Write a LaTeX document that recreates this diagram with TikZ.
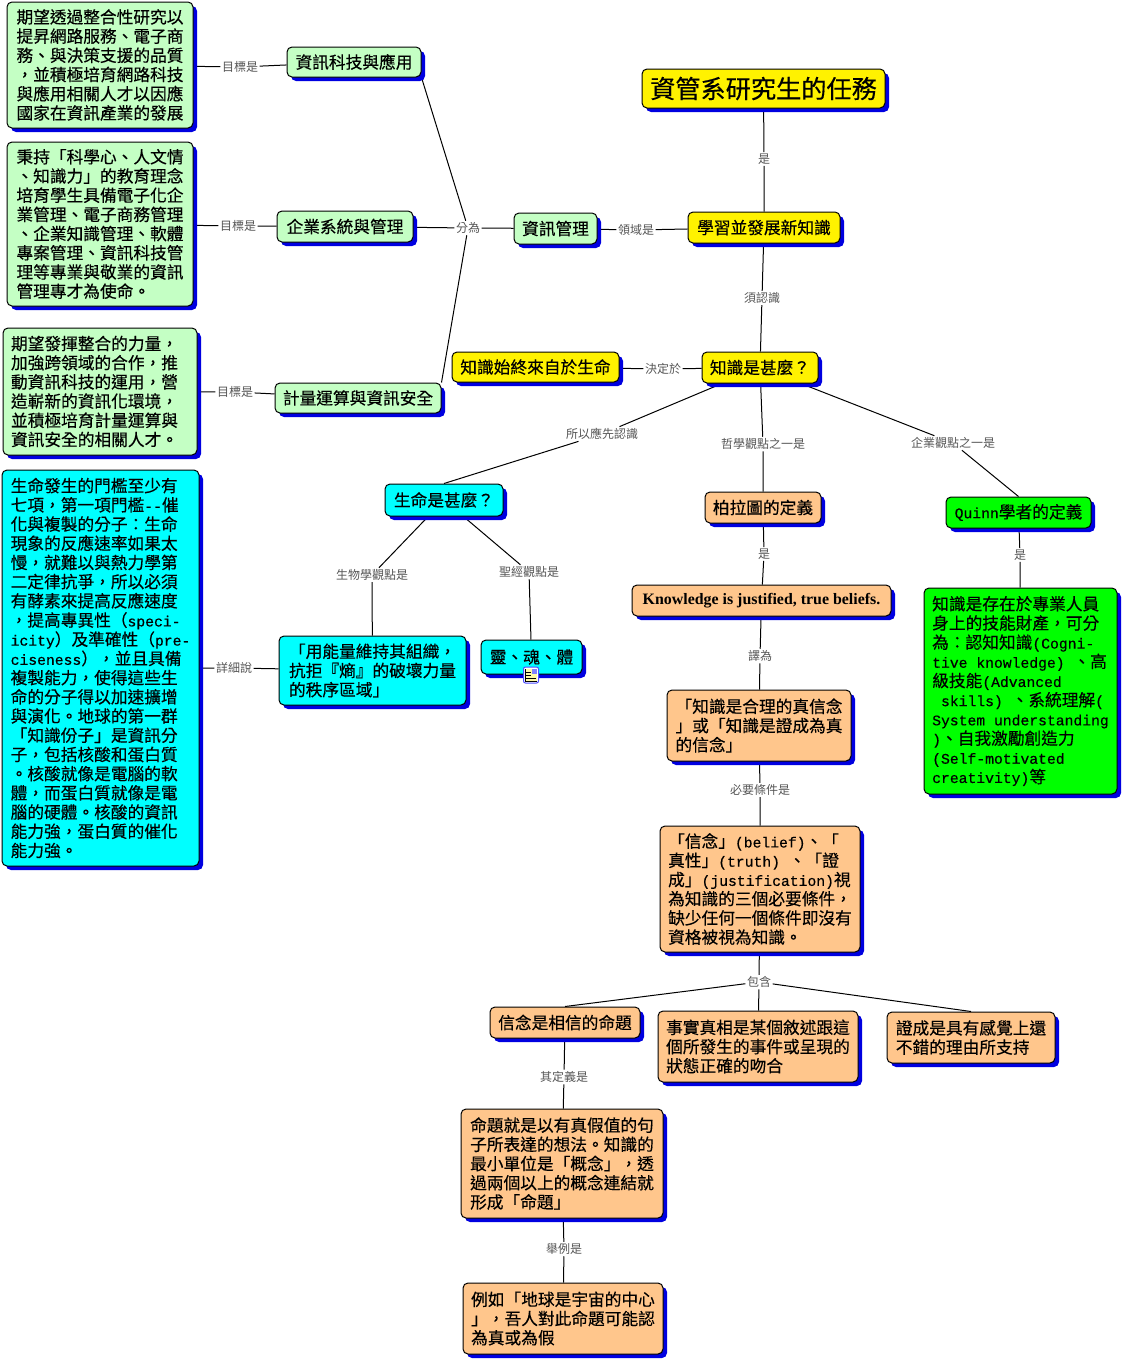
\documentclass[tikz,border=0pt]{standalone}
\usepackage{fontspec}
\setmainfont[FakeBold=0.3]{Noto Sans CJK TC}
\newfontfamily\linkfont{Noto Sans CJK TC}
\newfontfamily\latfont[Scale=0.881,FakeBold=0.4]{Liberation Mono}
\newfontfamily\engfont{Liberation Serif}
\newcommand{\lat}[1]{{\latfont #1}}
\usetikzlibrary{shadows,backgrounds}
\definecolor{palegreen}{HTML}{C4FFC4}
\definecolor{peach}{HTML}{FFC68C}
\definecolor{shadowblue}{HTML}{0000E0}
\definecolor{labelgray}{HTML}{555555}
\definecolor{skyfill}{HTML}{00FFFF}
\definecolor{limefill}{HTML}{00FF00}

\begin{document}
\begin{tikzpicture}[x=1pt, y=-1pt,
	main/.style = {draw, rounded corners=5pt, align=left, inner sep=0pt, line width=1pt,
		font=\fontsize{16.7}{19.2}\selectfont,
		drop shadow={shadow xshift=4pt, shadow yshift=-4pt, fill=shadowblue, opacity=1}},
	link/.style = {inner sep=1.5pt, text=labelgray, font=\linkfont\fontsize{12}{14}\selectfont},
	green/.style = {main, fill=palegreen},
	gold/.style = {main, fill=yellow},
	aqua/.style = {main, fill=skyfill},
	tan/.style = {main, fill=peach},
	lime/.style = {main, fill=limefill}]
	\useasboundingbox (0,0) rectangle (1123,1360);

	\node[gold, minimum width=243pt, minimum height=39pt, font=\fontsize{25.2}{30}\selectfont] (title) at (763.5,88.5) {資管系研究生的任務};
	\node[gold, minimum width=152pt, minimum height=31pt] (learn) at (764,227.5) {學習並發展新知識};
	\node[gold, minimum width=116pt, minimum height=31pt] (know) at (760,367.5) {知識是甚麼？};
	\node[gold, minimum width=167pt, minimum height=30pt] (source) at (535.5,367) {知識始終來自於生命};

	\node[green, minimum width=83pt, minimum height=31pt] (im) at (555.5,228.5) {資訊管理};
	\node[green, minimum width=134pt, minimum height=30pt] (sci) at (354,62) {資訊科技與應用};
	\node[green, minimum width=136pt, minimum height=31pt] (ent) at (345,226.5) {企業系統與管理};
	\node[green, minimum width=166pt, minimum height=30pt] (sec) at (358,398) {計量運算與資訊安全};
	\node[green, minimum width=186pt, minimum height=126pt] (scigoal) at (100,65) {期望透過整合性研究以\\提昇網路服務、電子商\\務、與決策支援的品質\\，並積極培育網路科技\\與應用相關人才以因應\\國家在資訊產業的發展};
	\node[green, minimum width=186pt, minimum height=164pt] (entgoal) at (100,224) {秉持「科學心、人文情\\、知識力」的教育理念\\培育學生具備電子化企\\業管理、電子商務管理\\、企業知識管理、軟體\\專案管理、資訊科技管\\理等專業與敬業的資訊\\管理專才為使命。};
	\node[green, minimum width=194pt, minimum height=127pt, text width=178pt] (secgoal) at (100,391.5) {期望發揮整合的力量，\\加強跨領域的合作，推\\動資訊科技的運用，營\\造嶄新的資訊化環境，\\並積極培育計量運算與\\資訊安全的相關人才。};

	\node[aqua, minimum width=118pt, minimum height=32pt] (life) at (444,500) {生命是甚麼？};
	\node[aqua, minimum width=187pt, minimum height=69pt] (energy) at (372.5,670.5) {「用能量維持其組織，\\抗拒『熵』的破壞力量\\的秩序區域」};
	\node[aqua, minimum width=101pt, minimum height=34pt] (soul) at (531.5,657) {靈、魂、體};
	\node[aqua, minimum width=197pt, minimum height=396pt] (detail) at (100.5,668) {生命發生的門檻至少有\\七項，第一項門檻\lat{--}催\\化與複製的分子：生命\\現象的反應速率如果太\\慢，就難以與熱力學第\\二定律抗爭，所以必須\\有酵素來提高反應速度\\，提高專異性（\lat{speci-}\\\lat{icity}）及準確性（\lat{pre-}\\\lat{ciseness}），並且具備\\複製能力，使得這些生\\命的分子得以加速擴增\\與演化。地球的第一群\\「知識份子」是資訊分\\子，包括核酸和蛋白質\\。核酸就像是電腦的軟\\體，而蛋白質就像是電\\腦的硬體。核酸的資訊\\能力強，蛋白質的催化\\能力強。};

	\node[tan, minimum width=116pt, minimum height=31pt] (plato) at (763,507.5) {柏拉圖的定義};
	\node[tan, minimum width=259pt, minimum height=31pt, font=\engfont\bfseries\fontsize{15.9}{19.2}\selectfont] (jtb) at (761.5,600.5) {Knowledge is justified, true beliefs.};
	\node[tan, minimum width=184pt, minimum height=71pt] (trans) at (759,725.5) {「知識是合理的真信念\\」或「知識是證成為真\\的信念」};
	\node[tan, minimum width=200pt, minimum height=126pt] (cond) at (760,889) {「信念」\lat{(belief)}、「\\真性」\lat{(truth) }、「證\\成」\lat{(justification)}視\\為知識的三個必要條件，\\缺少任何一個條件即沒有\\資格被視為知識。};
	\node[tan, minimum width=150pt, minimum height=31pt] (belief) at (565,1022.5) {信念是相信的命題};
	\node[tan, minimum width=200pt, minimum height=71pt] (fact) at (758,1046.5) {事實真相是某個敘述跟這\\個所發生的事件或呈現的\\狀態正確的吻合};
	\node[tan, minimum width=168pt, minimum height=51pt] (just) at (971,1037.5) {證成是具有感覺上還\\不錯的理由所支持};
	\node[tan, minimum width=202pt, minimum height=109pt] (prop) at (562,1163.5) {命題就是以有真假值的句\\子所表達的想法。知識的\\最小單位是「概念」，透\\過兩個以上的概念連結就\\形成「命題」};
	\node[tan, minimum width=200pt, minimum height=71pt] (exam) at (563,1318.5) {例如「地球是宇宙的中心\\」，吾人對此命題可能認\\為真或為假};

	\node[lime, minimum width=145pt, minimum height=31pt] (quinn) at (1018.5,512.5) {\lat{Quinn}學者的定義};
	\node[lime, minimum width=193pt, minimum height=206pt] (qdef) at (1020.5,691) {知識是存在於專業人員\\身上的技能財產，可分\\為：認知知識\lat{(Cogni-}\\\lat{tive knowledge) }、高\\級技能\lat{(Advanced}\\\lat{\ skills) }、系統理解\lat{(}\\\lat{System understanding}\\\lat{)}、自我激勵創造力\\\lat{(Self-motivated}\\\lat{creativity)}等};

	\node[link] (l1) at (764,159) {是};
	\node[link] (l2) at (636,230) {領域是};
	\node[link] (l3) at (762,298) {須認識};
	\node[link] (l4) at (663,369) {決定於};
	\node[link] (l5) at (468,228) {分為};
	\node[link] (l6) at (240,67) {目標是};
	\node[link] (l7) at (238,226) {目標是};
	\node[link] (l8) at (235,392) {目標是};
	\node[link] (l9) at (602,434) {所以應先認識};
	\node[link] (l10) at (763,444) {哲學觀點之一是};
	\node[link] (l11) at (953,443) {企業觀點之一是};
	\node[link] (l12) at (372,575) {生物學觀點是};
	\node[link] (l13) at (529,572) {聖經觀點是};
	\node[link] (l14) at (234,668) {詳細說};
	\node[link] (l15) at (764,554) {是};
	\node[link] (l16) at (1020,555) {是};
	\node[link] (l17) at (760,656) {譯為};
	\node[link] (l18) at (760,790) {必要條件是};
	\node[link] (l19) at (759,982) {包含};
	\node[link] (l20) at (564,1077) {其定義是};
	\node[link] (l21) at (564,1249) {舉例是};

	% small document mark on the soul box
	\node[draw=blue!70, fill=white, rounded corners=2pt, line width=1pt, minimum width=15pt, minimum height=16pt, inner sep=0pt] (icon) at (531,675) {};
	\fill[yellow!35] (525.5,669) rectangle (536.5,681);
	\fill[blue!50] (531.5,669) rectangle (536.5,674);
	\draw[line width=0.8pt] (525.5,669) -- (525.5,681) -- (536.5,681);
	\foreach \ypos in {672,675}
		\draw[line width=0.7pt] (526,\ypos) -- (531,\ypos);
	\draw[line width=0.7pt] (526,678) -- (536,678);

	\begin{scope}[on background layer={line width=1pt}]
		\draw[-] (title) -- (l1) -- (learn);
		\draw[-] (learn) -- (l2) -- (im);
		\draw[-] (learn) -- (l3) -- (know);
		\draw[-] (know) -- (l4) -- (source);
		\draw[-] (im) -- (l5) -- (ent);
		\draw[-] (l5) -- (sci.south east);
		\draw[-] (l5) -- (sec.north east);
		\draw[-] (sci) -- (l6) -- (scigoal);
		\draw[-] (ent) -- (l7) -- (entgoal);
		\draw[-] (sec) -- (l8) -- (secgoal);
		\draw[-] (know) -- (l9) -- (life.north);
		\draw[-] (know) -- (l10) -- (plato);
		\draw[-] (know) -- (l11) -- (quinn.north);
		\draw[-] (life) -- (l12) -- (energy);
		\draw[-] (life) -- (l13) -- (soul);
		\draw[-] (energy) -- (l14) -- (detail);
		\draw[-] (plato) -- (l15) -- (jtb);
		\draw[-] (quinn) -- (l16) -- (qdef);
		\draw[-] (jtb) -- (l17) -- (trans);
		\draw[-] (trans) -- (l18) -- (cond);
		\draw[-] (cond) -- (l19) -- (fact);
		\draw[-] (l19) -- (belief.north);
		\draw[-] (l19) -- (just.north);
		\draw[-] (belief) -- (l20) -- (prop);
		\draw[-] (prop) -- (l21) -- (exam);
	\end{scope}
\end{tikzpicture}
\end{document}
